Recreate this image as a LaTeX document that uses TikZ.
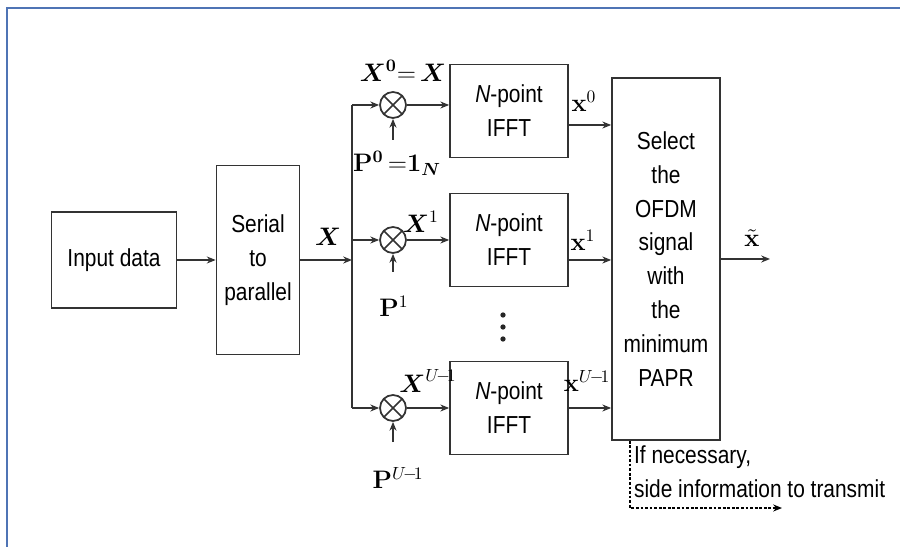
\documentclass[tikz,border=0pt]{standalone}
\usepackage{amsmath,amssymb}
\usepackage[no-math]{fontspec}
\setmainfont{Liberation Sans}[FakeStretch=0.85]
\usetikzlibrary{arrows.meta}
\definecolor{framecol}{RGB}{79,116,181}

\begin{document}
\begin{tikzpicture}[
    x=0.02cm, y=-0.02cm,
    >={Stealth[length=5pt,width=4pt]},
    block/.style={draw=black!80, line width=1pt, align=center, inner sep=0pt,
        font=\fontsize{14}{19.3}\selectfont},
    mixer/.style={draw=black!80, line width=1pt, circle, minimum size=0.52cm, inner sep=0pt,
        path picture={\draw[black!80, line width=1pt]
            (path picture bounding box.south west) -- (path picture bounding box.north east)
            (path picture bounding box.north west) -- (path picture bounding box.south east);}},
    flow/.style={->, line width=1pt, black!80},
    bus/.style={line width=1pt, black!80},
    label/.style={font=\fontsize{14}{17}\selectfont, inner sep=1pt},
    side/.style={->, densely dotted, line width=1.6pt}
]
    \useasboundingbox (0,0) rectangle (900,547);
    \draw[framecol, line width=1.4pt] (7,547) -- (7,8) -- (900,8);

    \node[block, minimum width=2.5cm, minimum height=1.92cm] (input) at (114,260) {Input data};
    \node[block, minimum width=1.66cm, minimum height=3.78cm] (sp) at (258,260) {Serial\\to\\parallel};
    \coordinate (bus) at (352,260);

    \node[mixer] (m0) at (393,105) {};
    \node[mixer] (m1) at (393,240) {};
    \node[mixer] (m2) at (393,408) {};

    \node[block, minimum width=2.36cm, minimum height=1.86cm] (f0) at (509,111) {\textit{N}-point\\IFFT};
    \node[block, minimum width=2.36cm, minimum height=1.86cm] (f1) at (509,240) {\textit{N}-point\\IFFT};
    \node[block, minimum width=2.36cm, minimum height=1.86cm] (f2) at (509,408) {\textit{N}-point\\IFFT};

    \node[block, minimum width=2.16cm, minimum height=7.24cm] (sel) at (666,259)
        {Select\\the\\OFDM\\signal\\with\\the\\minimum\\PAPR};

    \coordinate (o0) at (0,125);
    \coordinate (o1) at (0,260);
    \coordinate (o2) at (0,408);
    \coordinate (p0) at (393,140);
    \coordinate (p1) at (393,272);
    \coordinate (p2) at (393,442);
    \coordinate (outend) at (770,259);
    \coordinate (sidecorner) at (630,508);
    \coordinate (sideend) at (782,508);

    \draw[flow] (input) -- (sp);
    \draw[flow] (sp) -- (bus);
    \draw[bus] (bus |- m0) -- (bus |- m2);
    \foreach \i in {0,1,2} {
        \draw[flow] (bus |- m\i) -- (m\i);
        \draw[flow] (m\i) -- (f\i.west |- m\i);
        \draw[flow] (p\i) -- (m\i.south);
        \draw[flow] (f\i.east |- o\i) -- (sel.west |- o\i);
    }
    \draw[flow] (sel.east |- outend) -- (outend);
    \draw[side] (sel.south -| sidecorner) -- (sidecorner) -- (sideend);

    \node[label] (X) at (328,237) {$\boldsymbol{X}$};
    \node[label] (X0) at (403,71) {$\boldsymbol{X}^{\mathbf{0}}{\mathbf{=}}\,\boldsymbol{X}$};
    \node[label] (P0) at (397,163) {$\mathbf{P}^{\mathbf{0}}\,{\mathbf{=}}\mathbf{1}_{\boldsymbol{N}}$};
    \node[label] (X1) at (421,222) {$\boldsymbol{X}^{1}$};
    \node[label] (P1) at (394,306) {$\mathbf{P}^{1}$};
    \node[label] (X2) at (428,381) {$\boldsymbol{X}^{U\!-\!1}$};
    \node[label] (P2) at (398,478) {$\mathbf{P}^{U\!-\!1}$};
    \node[label] (x0) at (584,101) {$\mathbf{x}^{0}$};
    \node[label] (x1) at (583,240) {$\mathbf{x}^{1}$};
    \node[label] (x2) at (587,381) {$\mathbf{x}^{U\!-\!1}$};
    \node[label] (xt) at (752,238) {$\tilde{\mathbf{x}}$};

    \foreach \yy in {315,327,339}
        \fill[black!85] (503,\yy) circle (1.5pt);

    \node[label, anchor=west, align=left, font=\fontsize{14}{19.3}\selectfont] (sidetxt)
        at (632,472) {If necessary,\\side information to transmit};
\end{tikzpicture}
\end{document}
